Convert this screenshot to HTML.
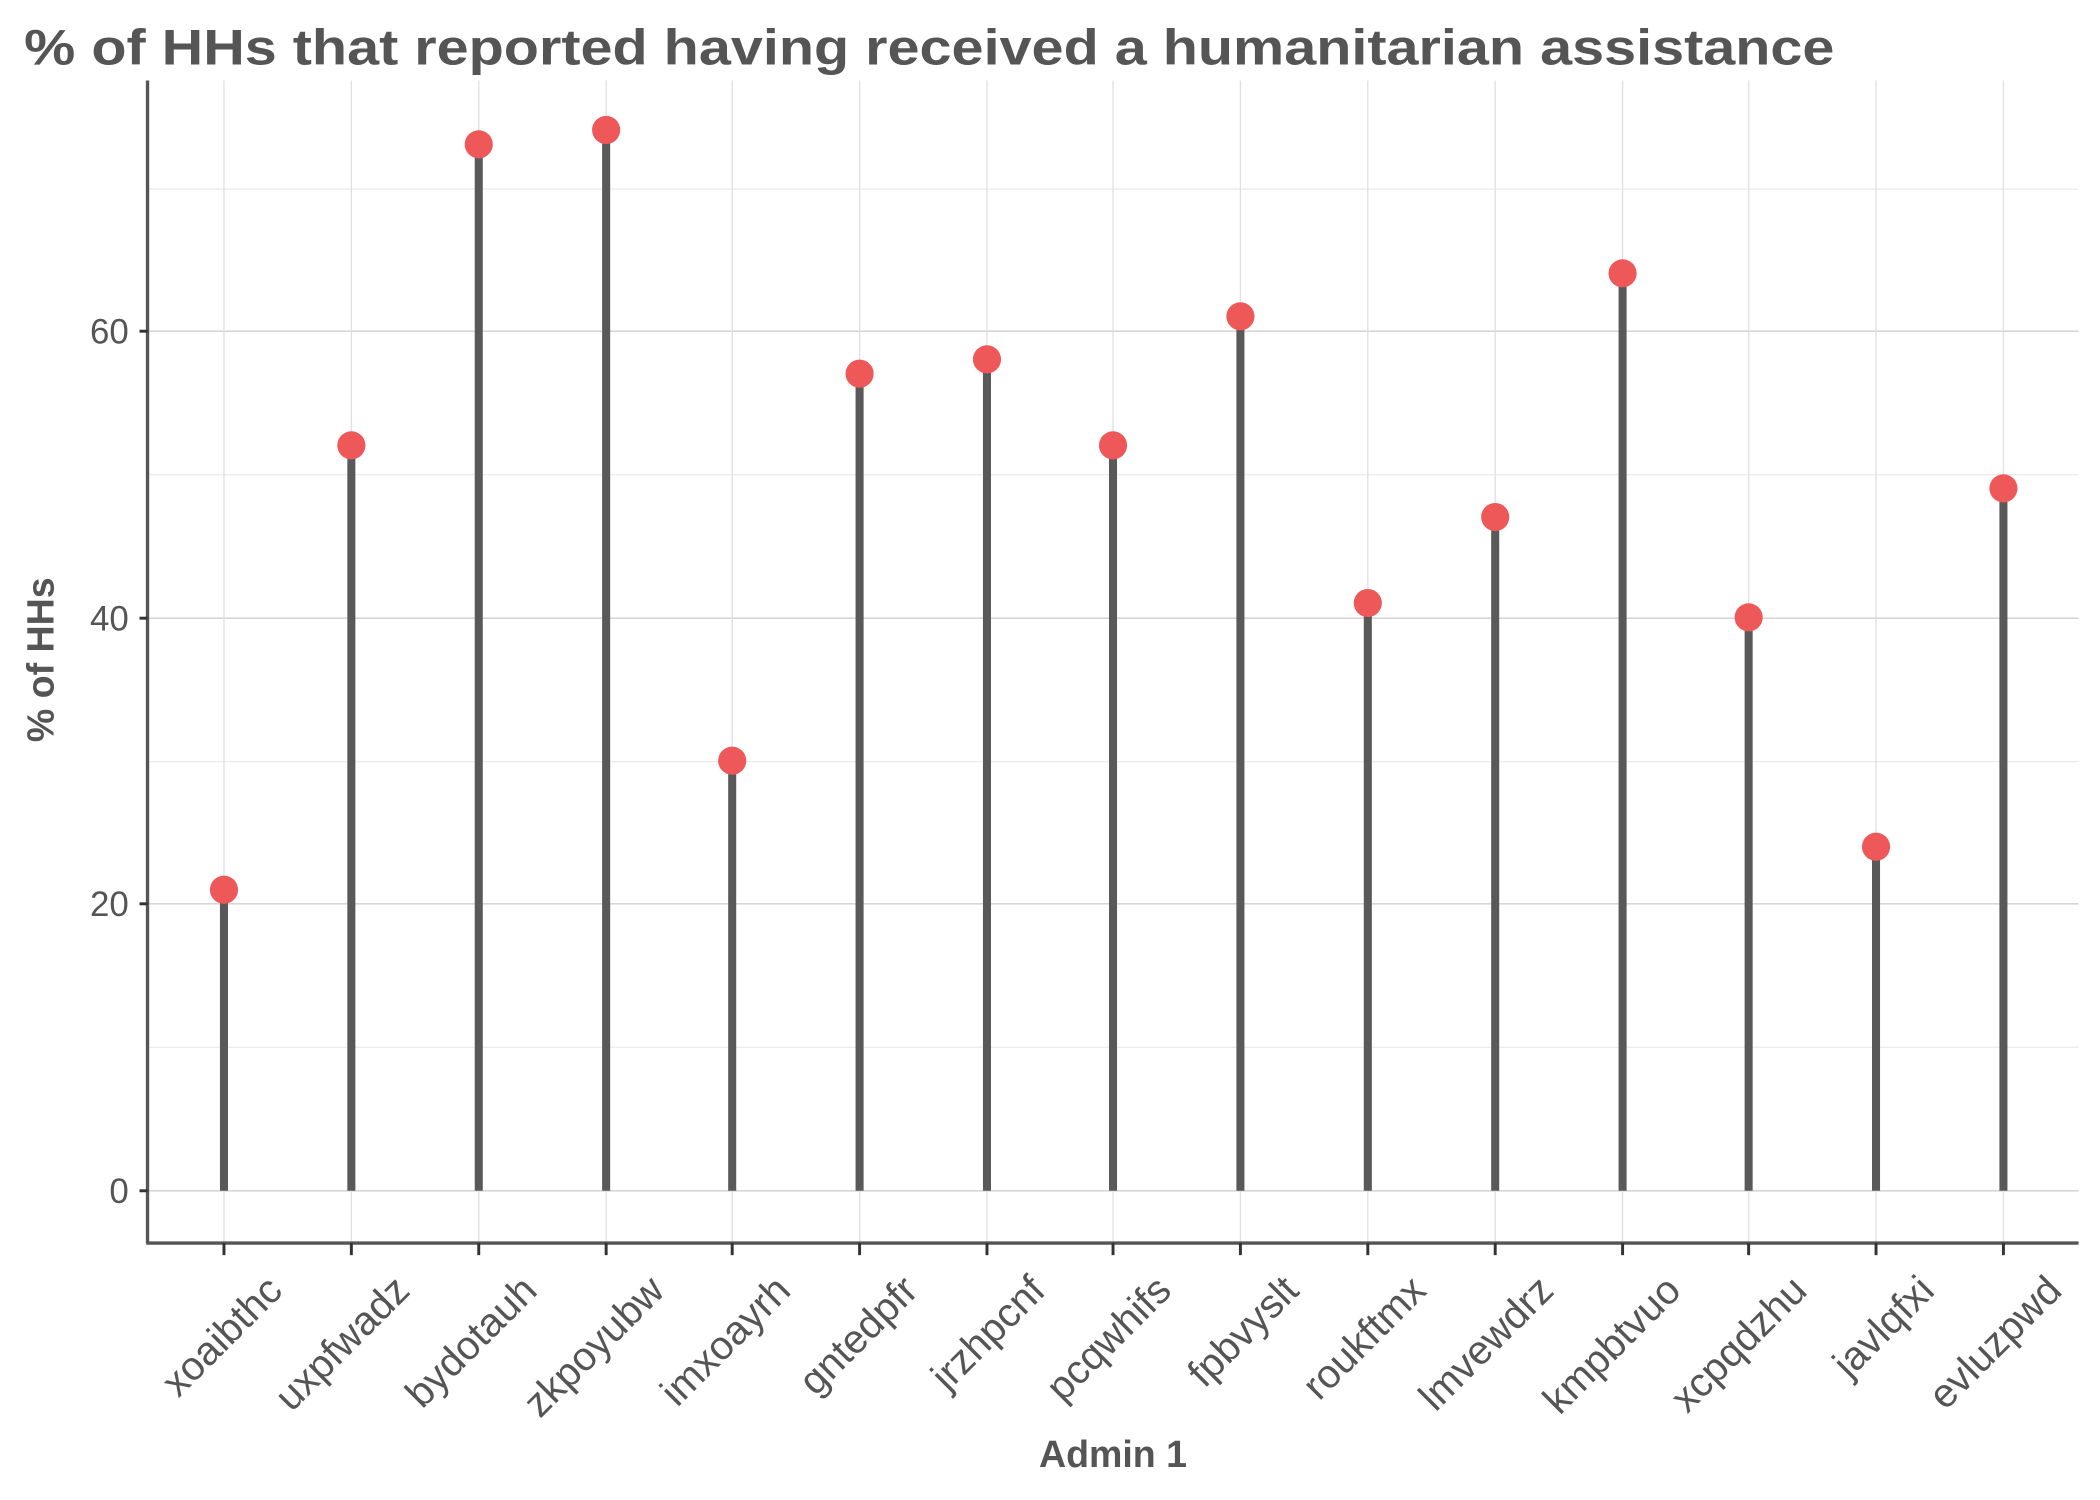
<!DOCTYPE html>
<html><head><meta charset="utf-8"><style>html,body{margin:0;padding:0;background:#fff;}svg{display:block;}</style></head>
<body>
<svg width="2100" height="1500" viewBox="0 0 1566 1118.6" xmlns="http://www.w3.org/2000/svg" font-family="Liberation Sans, DejaVu Sans, sans-serif">
<rect width="1566" height="1118.6" fill="#fff"/>
<text x="18" y="48" font-size="37" font-weight="bold" fill="#555" textLength="1350" lengthAdjust="spacingAndGlyphs">% of HHs that reported having received a humanitarian assistance</text>
<g stroke="#ececec" stroke-width="1">
<line x1="110" x2="1550" y1="781" y2="781"/><line x1="110" x2="1550" y1="568" y2="568"/><line x1="110" x2="1550" y1="354" y2="354"/><line x1="110" x2="1550" y1="141" y2="141"/>
</g>
<g stroke="#d6d6d6" stroke-width="1.2">
<line x1="110" x2="1550" y1="888" y2="888"/><line x1="110" x2="1550" y1="674" y2="674"/><line x1="110" x2="1550" y1="461" y2="461"/><line x1="110" x2="1550" y1="247" y2="247"/>
</g>
<g id="vg" stroke="#e0e0e0" stroke-width="1"></g>
<g id="stems"></g>
<line x1="110" y1="60" x2="110" y2="927" stroke="#555" stroke-width="2.5"/>
<line x1="109" y1="927" x2="1550" y2="927" stroke="#555" stroke-width="2.5"/>
<g stroke="#333" stroke-width="2.2">
<line x1="104" x2="110" y1="888" y2="888"/><line x1="104" x2="110" y1="674" y2="674"/><line x1="104" x2="110" y1="461" y2="461"/><line x1="104" x2="110" y1="247" y2="247"/>
</g>
<g font-size="26" fill="#555" text-anchor="end">
<text x="96" y="897">0</text><text x="96" y="683">20</text><text x="96" y="470">40</text><text x="96" y="256">60</text>
</g>
<text x="830" y="1094" font-size="28" font-weight="bold" fill="#555" text-anchor="middle">Admin 1</text>
<text transform="translate(40,492) rotate(-90)" font-size="28" font-weight="bold" fill="#555" text-anchor="middle">% of HHs</text>
<g id="labels" font-size="30" fill="#555" text-anchor="end"></g>
<script>
var xs=[167,262,357,452,546,641,736,830,925,1020,1115,1210,1304,1399,1494];
var vals=[21,52,73,74,30,57,58,52,61,41,47,64,40,24,49];
var names=["xoaibthc","uxpfwadz","bydotauh","zkpoyubw","imxoayrh","gntedpfr","jrzhpcnf","pcqwhifs","fpbvyslt","roukftmx","lmvewdrz","kmpbtvuo","xcpqdzhu","javlqfxi","evluzpwd"];
var ns="http://www.w3.org/2000/svg";
function el(t,a,p){var e=document.createElementNS(ns,t);for(var k in a)e.setAttribute(k,a[k]);p.appendChild(e);return e;}
var vg=document.getElementById('vg'),st=document.getElementById('stems'),lb=document.getElementById('labels');
var svg=document.querySelector('svg');
for(var i=0;i<15;i++){
 var x=xs[i],y=888-vals[i]*10.69;
 el('line',{x1:x,x2:x,y1:60,y2:927},vg);
 el('line',{x1:x,x2:x,y1:888,y2:y,stroke:'#595959','stroke-width':6},st);
 el('circle',{cx:x,cy:y,r:10.5,fill:'#EE5859'},st);
 el('line',{x1:x,x2:x,y1:927,y2:936,stroke:'#333','stroke-width':2.2},svg);
 var t=el('text',{transform:'translate('+(x+45)+',964) rotate(-45)'},lb);t.textContent=names[i];
}
</script>
</svg>
</body></html>
